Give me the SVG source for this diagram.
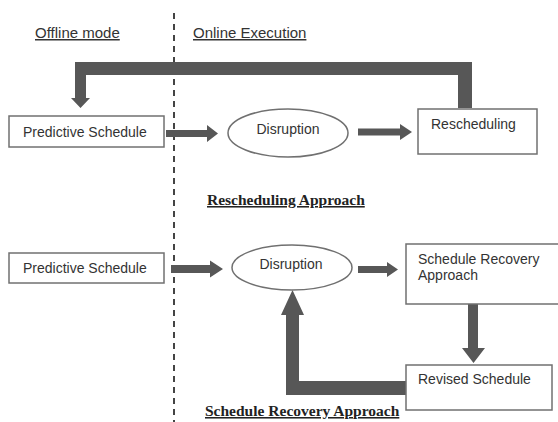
<svg xmlns="http://www.w3.org/2000/svg" width="558" height="422" viewBox="0 0 558 422">
<style>
.bg{fill:#ffffff}
.box{fill:#ffffff;stroke:#707070;stroke-width:1.5}
.lbl{font-family:"Liberation Sans",Arial,sans-serif;font-size:14px;fill:#333333}
.ttl{font-family:"Liberation Sans",Arial,sans-serif;font-size:15px;fill:#333333;text-decoration:underline}
.cap{font-family:"Liberation Serif","Times New Roman",serif;font-size:15.5px;font-weight:bold;fill:#222222;text-decoration:underline}
.arr{fill:#575757}
.div{stroke:#444444;stroke-width:2;stroke-dasharray:6 5;fill:none}
</style>
<rect class="bg" x="0" y="0" width="558" height="422"/>
<line class="div" x1="174" y1="13" x2="174" y2="422"/>
<text class="ttl" x="35" y="38">Offline mode</text>
<text class="ttl" x="193" y="38">Online Execution</text>
<g id="connectors">
<polygon class="arr" points="458,108 472,108 472,62 75,62 75,98 71,98 80.5,108 90,98 86,98 86,75 458,75"/>
<polygon class="arr" points="166,130 207,130 207,125 218,133.5 207,142 207,137 166,137"/>
<polygon class="arr" points="358,128.5 400,128.5 400,124 412,132 400,140 400,135.5 358,135.5"/>
<polygon class="arr" points="171,265 210,265 210,260.5 223,269 210,277.5 210,273 171,273"/>
<polygon class="arr" points="358,266 387,266 387,262 398,269.5 387,277 387,273 358,273"/>
<polygon class="arr" points="468,304 478,304 478,348 485,348 473.5,363 462,348 468,348"/>
<polygon class="arr" points="406,381 406,395 286,395 286,315 281,315 292.5,290 304,315 299,315 299,381"/>
</g>
<g id="predictive1">
<rect class="box" x="9" y="116" width="155" height="31"/>
<text class="lbl" x="23" y="137">Predictive Schedule</text>
</g>
<g id="disruption1">
<ellipse class="box" cx="288" cy="133" rx="60" ry="24"/>
<text class="lbl" x="288" y="134" text-anchor="middle">Disruption</text>
</g>
<g id="rescheduling">
<rect class="box" x="418" y="109" width="119" height="45"/>
<text class="lbl" x="431" y="129">Rescheduling</text>
</g>
<text class="cap" x="207" y="205">Rescheduling Approach</text>
<g id="predictive2">
<rect class="box" x="9" y="253" width="155" height="30"/>
<text class="lbl" x="23" y="273">Predictive Schedule</text>
</g>
<g id="disruption2">
<ellipse class="box" cx="292" cy="267.5" rx="60" ry="22.5"/>
<text class="lbl" x="291" y="269" text-anchor="middle">Disruption</text>
</g>
<g id="recovery">
<rect class="box" x="406" y="244" width="160" height="60"/>
<text class="lbl" x="418" y="264">Schedule Recovery</text>
<text class="lbl" x="418" y="280">Approach</text>
</g>
<g id="revised">
<rect class="box" x="406" y="365" width="146" height="45"/>
<text class="lbl" x="418" y="384">Revised Schedule</text>
</g>
<text class="cap" x="205" y="416">Schedule Recovery Approach</text>
</svg>
